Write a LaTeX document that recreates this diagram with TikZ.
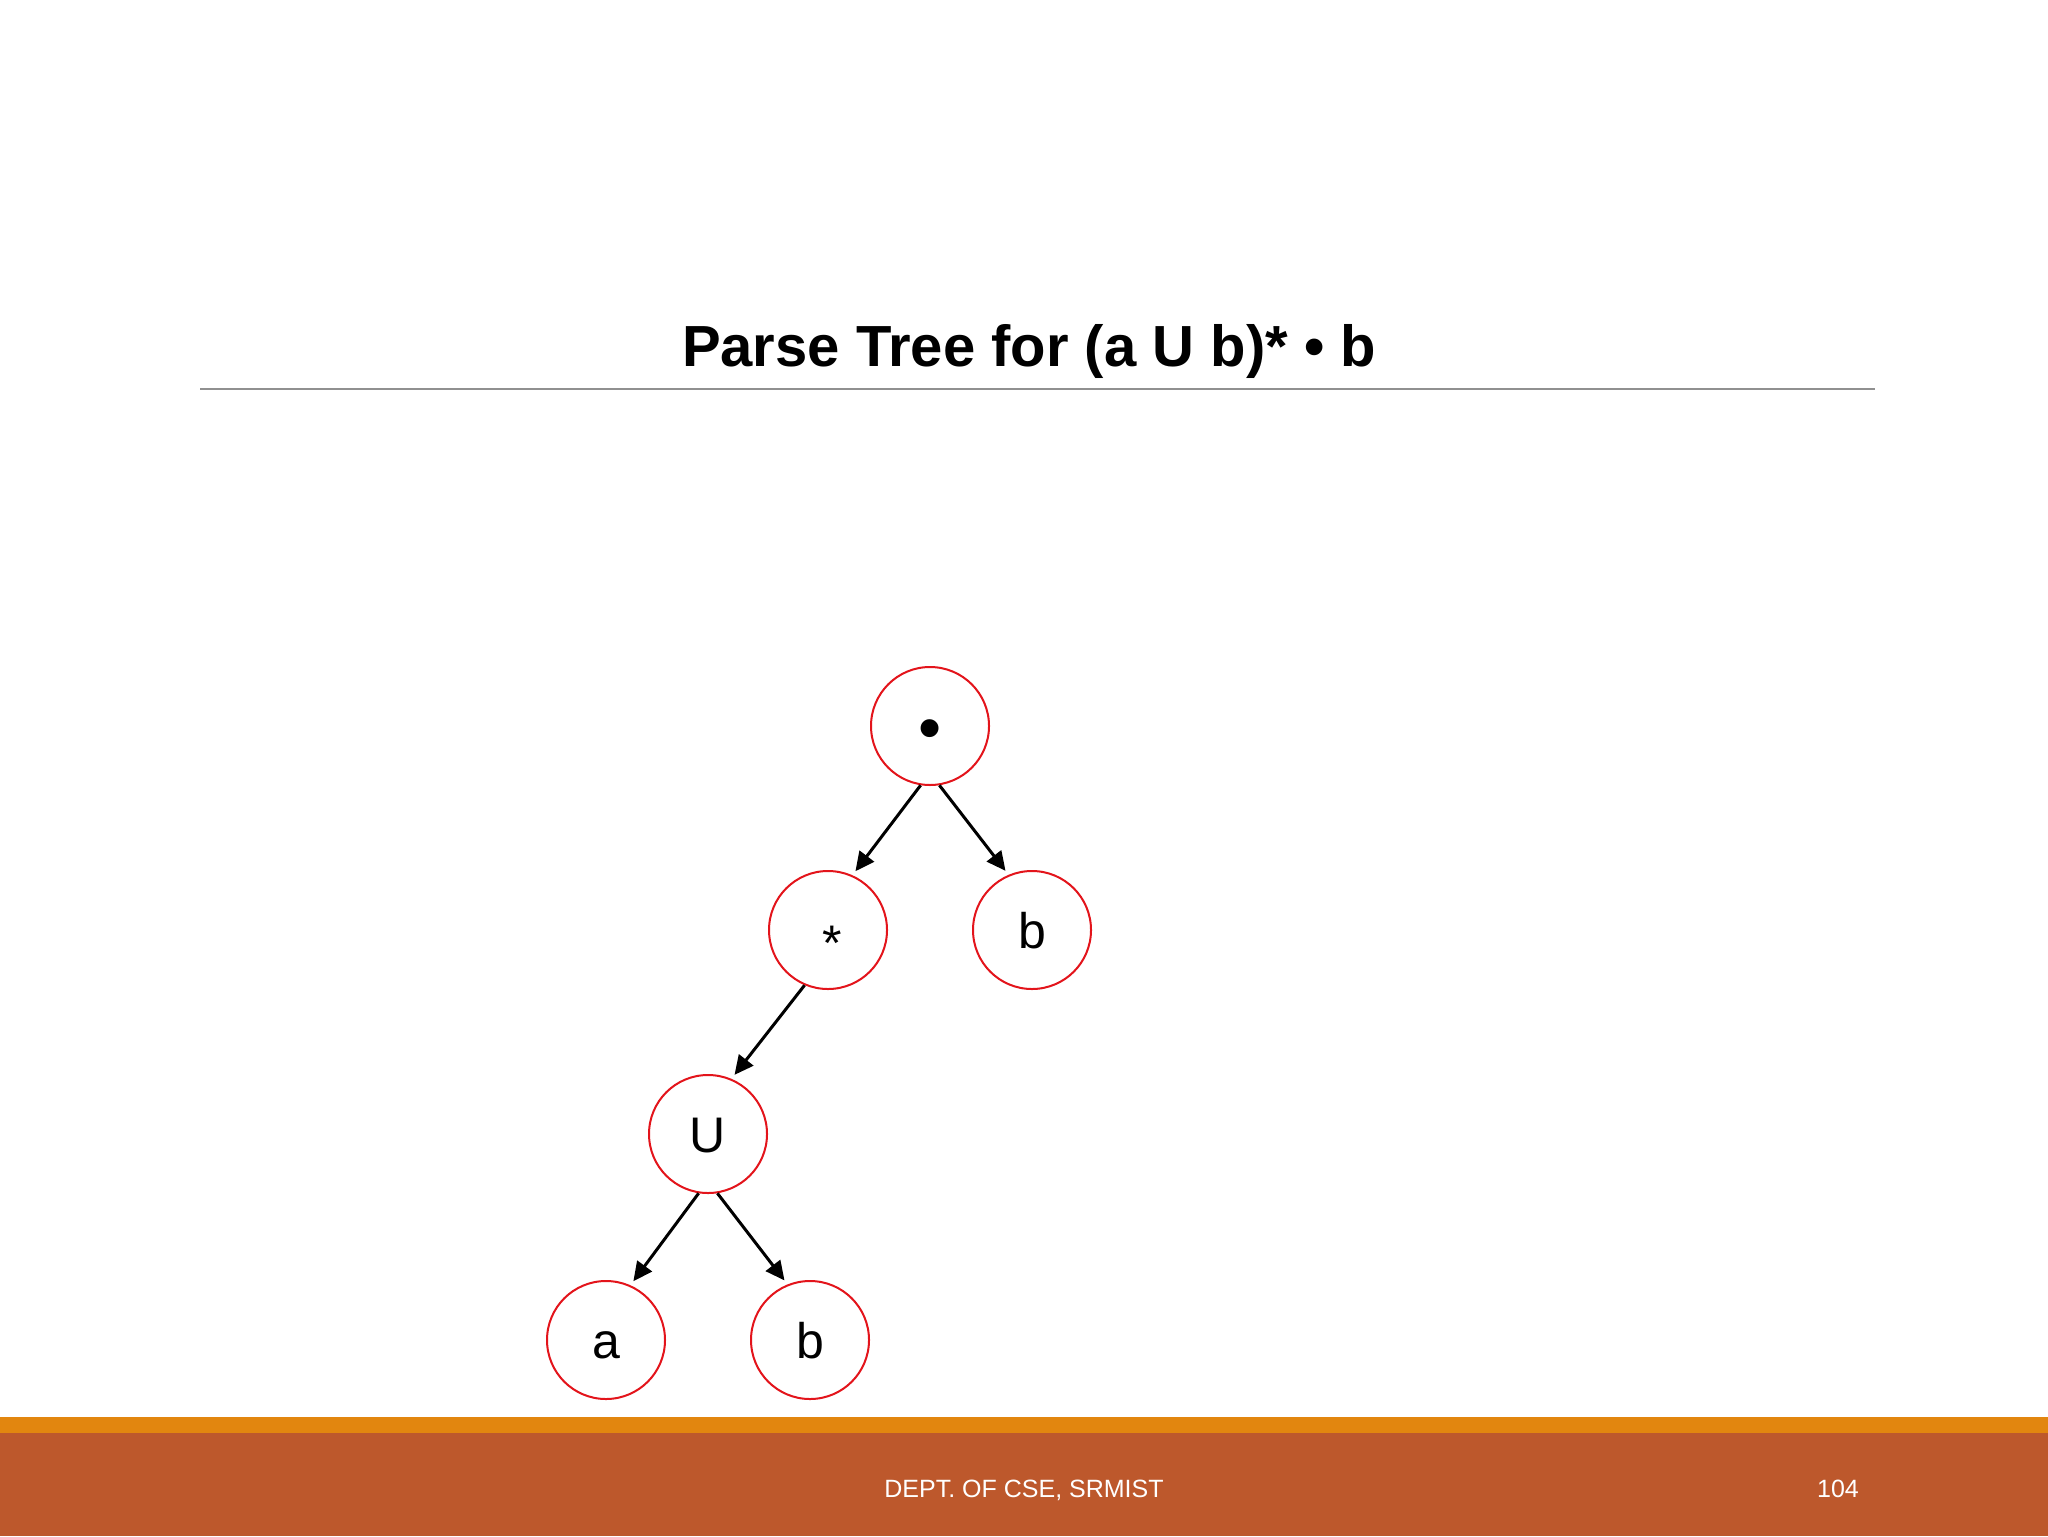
\documentclass[tikz,border=0pt]{standalone}
\usepackage{fontspec}
\setmainfont{Liberation Sans}
\usetikzlibrary{arrows.meta}
\definecolor{bandorange}{HTML}{E2860F}
\definecolor{banddark}{HTML}{BD582C}
\definecolor{rulegray}{HTML}{909090}
\definecolor{nodered}{HTML}{E3141B}
\begin{document}
\begin{tikzpicture}[x=0.5pt,y=-0.5pt,
  treenode/.style={circle, draw=nodered, line width=1pt, minimum size=59pt, inner sep=0pt,
    font=\fontsize{25}{30}\selectfont, text height=18pt, text depth=0pt},
  edge/.style={line width=1.5pt, shorten >=2.5pt, -{Triangle[length=9.5pt,width=9pt]}},
  lbl/.style={inner sep=0pt, font=\fontsize{25}{30}\selectfont}]
\useasboundingbox (0,0) rectangle (2048,1536);
\fill[white] (0,0) rectangle (2048,1536);
% title
\node[anchor=base, inner sep=0pt, font=\fontsize{29}{34}\selectfont\bfseries] (title) at (1029,366) {Parse Tree for (a U b)* • b};
\draw[rulegray, line width=1pt] (200,389) -- (1875,389);
% tree
\node[treenode] (root) at (930,726) {};
\node[lbl, font=\fontsize{33}{36}\selectfont] (rootlbl) at (930,735) {•};
\node[treenode] (star) at (828,930) {};
\node[lbl, anchor=center] (starlbl) at (832,943) {*};
\node[treenode] (b1) at (1032,930) {b};
\node[treenode] (U) at (708,1134) {U};
\node[treenode] (a) at (606,1340) {a};
\node[treenode] (b2) at (810,1340) {b};
\draw[edge] (root.261) -- (star.66);
\draw[edge] (root.279) -- (b1.113);
\draw[edge] (star.247) -- (U.67);
\draw[edge] (U.261) -- (a.66);
\draw[edge] (U.279) -- (b2.112);
% footer
\fill[banddark] (0,1433) rectangle (2048,1536);
\fill[bandorange] (0,1417) rectangle (2048,1433);
\node[anchor=base, inner sep=0pt, text=white, font=\fontsize{12.5}{15}\selectfont] (foot) at (1024,1497) {DEPT. OF CSE, SRMIST};
\node[anchor=base, inner sep=0pt, text=white, font=\fontsize{12.5}{15}\selectfont] (pagenum) at (1838,1497) {104};
\end{tikzpicture}
\end{document}
